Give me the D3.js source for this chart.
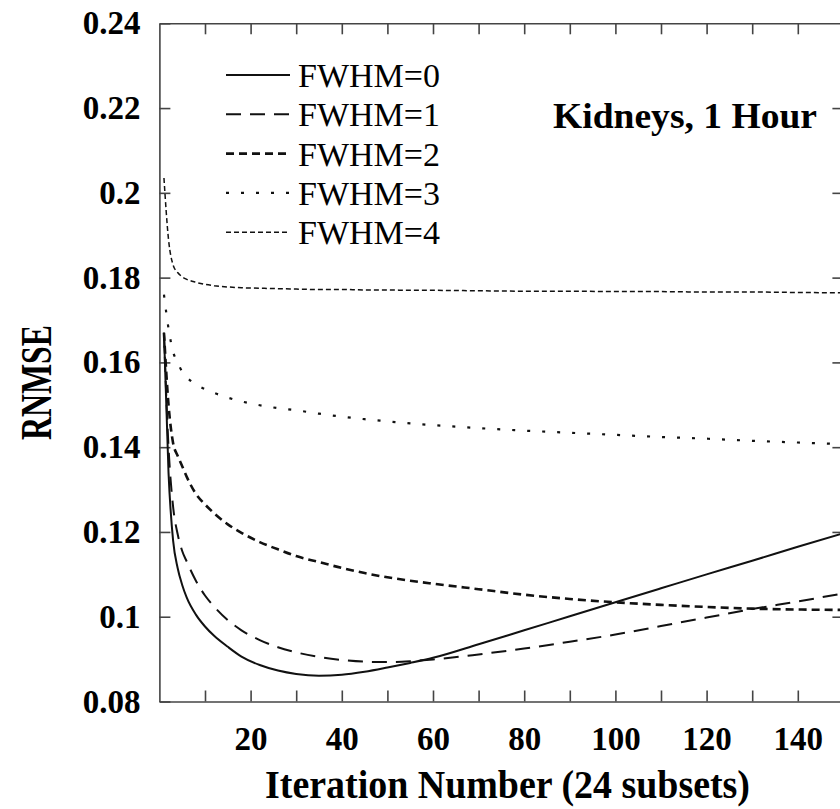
<!DOCTYPE html>
<html>
<head>
<meta charset="utf-8">
<script src="https://cdn.jsdelivr.net/npm/d3@7"></script>
<style>
  body { margin: 0; background: #fff; }
  svg { display: block; font-family: "Liberation Serif", "Times New Roman", serif; }
</style>
</head>
<body>
<script>
const iterations = [1, 2, 3, 4, 5, 6, 8, 10, 12, 15, 18, 22, 26, 30, 35, 40, 45, 50, 55, 60, 70, 80, 90, 100, 110, 120, 130, 140, 150];

const fwhm0 = [0.167, 0.134, 0.118, 0.1115, 0.1075, 0.1045, 0.1005, 0.0977, 0.0955, 0.0929, 0.0906, 0.0886, 0.0873, 0.0865, 0.0861, 0.0863, 0.0870, 0.0880, 0.0891, 0.0903, 0.0935, 0.0968, 0.1001, 0.1034, 0.1067, 0.1100, 0.1132, 0.1165, 0.1197];
const fwhm1 = [0.167, 0.140, 0.126, 0.1195, 0.1155, 0.1130, 0.1085, 0.1050, 0.1024, 0.0992, 0.0968, 0.0945, 0.0928, 0.0916, 0.0905, 0.0898, 0.0894, 0.0893, 0.0895, 0.0899, 0.0911, 0.0925, 0.0941, 0.0958, 0.0978, 0.0998, 0.1018, 0.1036, 0.1055];
const fwhm2 = [0.167, 0.150, 0.141, 0.1380, 0.1355, 0.1330, 0.1290, 0.1265, 0.1244, 0.1218, 0.1198, 0.1176, 0.1159, 0.1143, 0.1129, 0.1115, 0.1103, 0.1093, 0.1085, 0.1078, 0.1065, 0.1052, 0.1042, 0.1034, 0.1028, 0.1023, 0.1019, 0.1017, 0.1016];
const fwhm3 = [0.176, 0.168, 0.1625, 0.1600, 0.1578, 0.1565, 0.1548, 0.1537, 0.1528, 0.1517, 0.1508, 0.1499, 0.1492, 0.1487, 0.1479, 0.1472, 0.1466, 0.1461, 0.1456, 0.1452, 0.1445, 0.1439, 0.1434, 0.1429, 0.1424, 0.1420, 0.1415, 0.1411, 0.1407];
const fwhm4 = [0.2035, 0.189, 0.1830, 0.1812, 0.1802, 0.1796, 0.1789, 0.1784, 0.1781, 0.1778, 0.1776, 0.1775, 0.1774, 0.1773, 0.1772, 0.1772, 0.1771, 0.1771, 0.1770, 0.1770, 0.1769, 0.1768, 0.1768, 0.1767, 0.1767, 0.1766, 0.1766, 0.1765, 0.1764];

const seriesNames = ['FWHM=0', 'FWHM=1', 'FWHM=2', 'FWHM=3', 'FWHM=4'];
const seriesValues = [fwhm0, fwhm1, fwhm2, fwhm3, fwhm4];

const yTicks = [0.08, 0.10, 0.12, 0.14, 0.16, 0.18, 0.20, 0.22, 0.24];
const xTicks = [10, 20, 30, 40, 50, 60, 70, 80, 90, 100, 110, 120, 130, 140];
const xLabelTicks = [20, 40, 60, 80, 100, 120, 140];

// line styles per series (same order as seriesNames)
const dashes = ['none', '15,9', '8,5', '3,12', '5,3'];
const widths = [2, 2, 2.6, 2.2, 1.5];

const W = 840, H = 809;
const svg = d3.select('body').append('svg').attr('width', W).attr('height', H);

const x = d3.scaleLinear().domain([0, 150]).range([159.4, 843.4]);
const y = d3.scaleLinear().domain([0.08, 0.24]).range([701.5, 23.3]);

const axisColor = '#444';
const tick = 11;

// bottom axis, labels on every other tick
const gx = svg.append('g').attr('transform', `translate(0,${y(0.08)})`)
  .call(d3.axisBottom(x).tickValues(xTicks).tickSize(-tick).tickSizeOuter(0).tickPadding(25)
    .tickFormat(d => xLabelTicks.includes(d) ? d : ''));
// top axis
const gt = svg.append('g').attr('transform', `translate(0,${y(0.24)})`)
  .call(d3.axisTop(x).tickValues(xTicks).tickSize(-tick).tickSizeOuter(0).tickFormat(''));
// left axis
const gy = svg.append('g').attr('transform', `translate(${x(0)},0)`)
  .call(d3.axisLeft(y).tickValues(yTicks).tickSize(-tick).tickSizeOuter(0).tickPadding(19)
    .tickFormat(d => String(+d.toFixed(2))));
// right axis
const gr = svg.append('g').attr('transform', `translate(${x(150)},0)`)
  .call(d3.axisRight(y).tickValues(yTicks.slice(1, -1)).tickSize(-tick).tickSizeOuter(0).tickFormat(''));

[gx, gt, gy, gr].forEach(g => {
  g.selectAll('path.domain').attr('stroke', axisColor).attr('stroke-width', 1.6);
  g.selectAll('.tick line').attr('stroke', axisColor).attr('stroke-width', 1.6);
  g.selectAll('.tick text').attr('fill', '#000').style('font-size', '33px').style('font-weight', 'bold')
    .style('font-family', '"Liberation Serif", serif');
});

// curves
const line = d3.line()
  .x((d, i) => x(iterations[i]))
  .y(d => y(d))
  .curve(d3.curveMonotoneX);

seriesValues.forEach((vals, k) => {
  svg.append('path')
    .datum(vals)
    .attr('fill', 'none')
    .attr('stroke', '#111')
    .attr('stroke-width', widths[k])
    .attr('stroke-dasharray', dashes[k])
    .attr('d', line);
});

// legend
const legend = svg.append('g');
seriesNames.forEach((name, k) => {
  const cy = 75 + k * 39.3;
  legend.append('line')
    .attr('x1', 226).attr('x2', 290).attr('y1', cy).attr('y2', cy)
    .attr('stroke', '#111').attr('stroke-width', widths[k])
    .attr('stroke-dasharray', dashes[k]);
  legend.append('text')
    .attr('x', 298).attr('y', cy + 12)
    .style('font-size', '34px')
    .text(name);
});

// annotation
svg.append('text')
  .attr('x', 553).attr('y', 128)
  .attr('textLength', 264).attr('lengthAdjust', 'spacingAndGlyphs')
  .style('font-size', '35px').style('font-weight', 'bold')
  .text('Kidneys, 1 Hour');

// axis titles
svg.append('text')
  .attr('x', 265).attr('y', 798)
  .attr('textLength', 485).attr('lengthAdjust', 'spacingAndGlyphs')
  .style('font-size', '40px').style('font-weight', 'bold')
  .text('Iteration Number (24 subsets)');

svg.append('text')
  .attr('transform', 'translate(51,440) rotate(-90)')
  .attr('textLength', 115).attr('lengthAdjust', 'spacingAndGlyphs')
  .style('font-size', '44px').style('font-weight', 'bold')
  .text('RNMSE');
</script>
</body>
</html>
